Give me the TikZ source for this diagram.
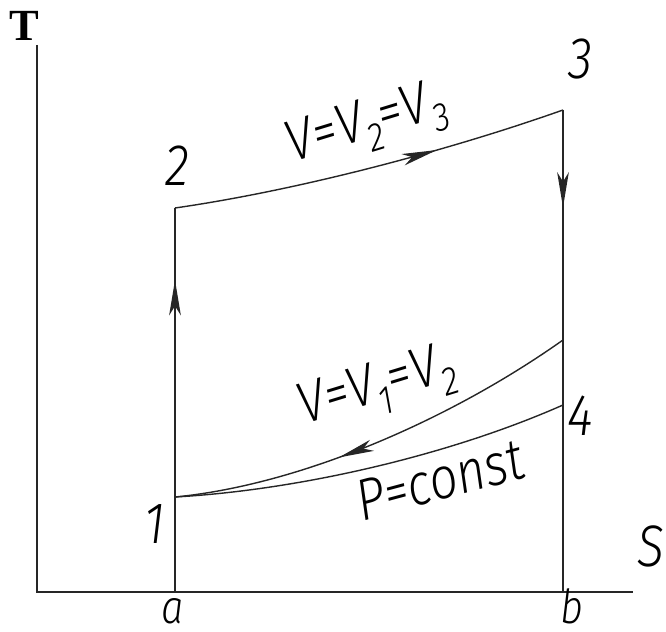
\documentclass[tikz,border=0pt]{standalone}
\usepackage{fontspec}
\setmainfont{Liberation Serif}
\IfFontExistsTF{Fira Sans Light Italic}
  {\newfontfamily\gostfont{Fira Sans Light Italic}[FakeStretch=0.85]}
  {\IfFontExistsTF{Lato Light Italic}
    {\newfontfamily\gostfont{Lato Light Italic}[FakeStretch=0.85]}
    {\newfontfamily\gostfont{DejaVu Sans Condensed}[FakeSlant=0.25,FakeStretch=0.85]}}
\usetikzlibrary{arrows.meta,decorations.markings}
\newcommand{\lowsub}[1]{\raisebox{-6pt}{\fontsize{17}{17}\selectfont #1}}

\begin{document}
\begin{tikzpicture}[
  x=0.015cm, y=-0.015cm,
  %% Axes: slightly heavier
  axisline/.style={line width=0.8pt,black!85},
  %% Cycle lines: thin
  cycleline/.style={line width=0.6pt,black!85},
  %% Direction of the cycle: long narrow tip part way along a line
  flowarrow/.style={cycleline,postaction={decorate},
    decoration={markings,mark=at position #1 with
      {\arrow{Stealth[length=15pt,width=5pt,inset=4pt]}}}},
  %% Labels in a drafting hand
  ptlabel/.style={font=\gostfont\fontsize{25}{25}\selectfont,inner sep=0pt},
  axislabel/.style={font=\bfseries\fontsize{19}{19}\selectfont,inner sep=0pt}
]
\useasboundingbox (0,0) rectangle (666,632);

%% ---- AXES ----
\coordinate (ytop) at (37,45);
\coordinate (orig) at (37,592);
\coordinate (xend) at (633,592);
\draw[axisline] (ytop) -- (orig) -- (xend);
\node[axislabel] (taxis) at (24,26) {T};
\node[ptlabel]   (saxis) at (651,546) {S};

%% ---- STATE POINTS ----
\coordinate (p1)  at (175,497);
\coordinate (p2)  at (175,208);
\coordinate (p3)  at (563,110);
\coordinate (p4)  at (563,405);
\coordinate (p4u) at (563,340);
\coordinate (pa)  at (175,592);
\coordinate (pb)  at (563,592);

%% ---- CYCLE ----
\draw[flowarrow=0.75] (p1) -- (p2);
\draw[flowarrow=0.67] (p2) .. controls (300,190) and (450,150) .. (p3);
\draw[flowarrow=0.33] (p3) -- (p4);
\draw[flowarrow=0.6]  (p4u) .. controls (450,420) and (300,485) .. (p1);
\draw[cycleline] (p1) .. controls (300,490) and (450,455) .. (p4);

%% ---- DROP LINES ----
\draw[cycleline] (p1) -- (pa);
\draw[cycleline] (p4) -- (pb);

%% ---- LABELS ----
\node[ptlabel] (n1) at (155,524) {1};
\node[ptlabel] (n2) at (177,166) {2};
\node[ptlabel] (n3) at (581,59)  {3};
\node[ptlabel] (n4) at (580,416) {4};
\node[ptlabel,font=\gostfont\fontsize{20}{20}\selectfont,anchor=base] (na) at (173,624) {a};
\node[ptlabel,font=\gostfont\fontsize{20}{20}\selectfont,anchor=base] (nb) at (572,624) {b};

\node[ptlabel,rotate=17] (lab23) at (367,126) {V=V\lowsub{2}=V\lowsub{3}};
\node[ptlabel,rotate=17] (lab41) at (377,389) {V=V\lowsub{1}=V\lowsub{2}};
\node[ptlabel,rotate=15] (labp)  at (440,480) {P=const};

\end{tikzpicture}
\end{document}
